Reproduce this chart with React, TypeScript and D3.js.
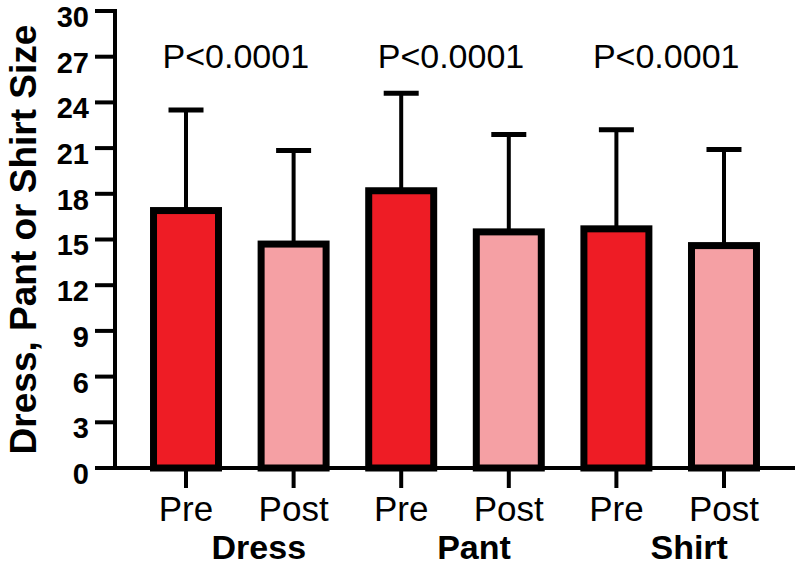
import React from "react";
import * as d3 from "d3";

const categories = ["Dress", "Pant", "Shirt"];
const conditions = ["Pre", "Post"];
const preMeans = [16.9, 18.2, 15.7];
const postMeans = [14.7, 15.5, 14.6];
const preSD = [6.6, 6.4, 6.5];
const postSD = [6.15, 6.4, 6.3];
const pLabels = ["P<0.0001", "P<0.0001", "P<0.0001"];
const yTicks = [0, 3, 6, 9, 12, 15, 18, 21, 24, 27, 30];
const yTitle = "Dress, Pant or Shirt Size";

const W = 800;
const H = 566;
const FONT = "'Liberation Sans', Arial, Helvetica, sans-serif";
const colors: Record<string, string> = { Pre: "#EE1C25", Post: "#F5A0A4" };

export default function App() {
  const left = 115;
  const right = 795;
  const top = 11;
  const bottom = 468;

  const rows = categories.flatMap((c, i) => [
    { key: `${c}-${conditions[0]}`, cat: c, cond: conditions[0], mean: preMeans[i], sd: preSD[i] },
    { key: `${c}-${conditions[1]}`, cat: c, cond: conditions[1], mean: postMeans[i], sd: postSD[i] },
  ]);

  const x = d3
    .scaleBand<string>()
    .domain(rows.map((r) => r.key))
    .range([left, right])
    .paddingInner(0.396)
    .paddingOuter(0.358);

  const y = d3.scaleLinear().domain([0, 30]).range([bottom, top]);
  const bw = x.bandwidth();
  const cx = (k: string) => (x(k) as number) + bw / 2;

  return (
    <svg
      width={W}
      height={H}
      style={{ position: "absolute", left: 0, top: 0, background: "#fff" }}
      fontFamily={FONT}
    >
      <rect x={0} y={0} width={W} height={H} fill="#fff" />
      {rows.map((r) => (
        <g key={r.key}>
          <line
            x1={cx(r.key)}
            x2={cx(r.key)}
            y1={y(r.mean)}
            y2={y(r.mean + r.sd)}
            stroke="#000"
            strokeWidth={4}
          />
          <line
            x1={cx(r.key) - 17.5}
            x2={cx(r.key) + 17.5}
            y1={y(r.mean + r.sd)}
            y2={y(r.mean + r.sd)}
            stroke="#000"
            strokeWidth={5}
          />
          <rect
            x={x(r.key)}
            y={y(r.mean)}
            width={bw}
            height={y(0) - y(r.mean)}
            fill={colors[r.cond]}
            stroke="#000"
            strokeWidth={7}
          />
        </g>
      ))}
      <line x1={left} x2={left} y1={y(30) - 2} y2={bottom + 2} stroke="#000" strokeWidth={4} />
      {yTicks.map((t) => (
        <g key={t}>
          <line x1={left - 20} x2={left} y1={y(t)} y2={y(t)} stroke="#000" strokeWidth={4} />
          <text
            x={left - 26}
            y={y(t)}
            dy="0.55em"
            textAnchor="end"
            fontSize={29}
            fontWeight="bold"
          >
            {t}
          </text>
        </g>
      ))}
      <line x1={left - 2} x2={right} y1={bottom} y2={bottom} stroke="#000" strokeWidth={4} />
      {rows.map((r) => (
        <g key={`t-${r.key}`}>
          <line x1={cx(r.key)} x2={cx(r.key)} y1={bottom} y2={bottom + 20} stroke="#000" strokeWidth={4} />
          <text x={cx(r.key)} y={521} textAnchor="middle" fontSize={35}>
            {r.cond}
          </text>
        </g>
      ))}
      {categories.map((c, i) => {
        const mid = (cx(`${c}-${conditions[0]}`) + cx(`${c}-${conditions[1]}`)) / 2;
        return (
          <g key={`c-${c}`}>
            <text x={mid + 19} y={559} textAnchor="middle" fontSize={34} fontWeight="bold">
              {c}
            </text>
            <text x={mid - 4} y={68} textAnchor="middle" fontSize={34}>
              {pLabels[i]}
            </text>
          </g>
        );
      })}
      <text
        transform={`translate(36, ${(top + bottom) / 2}) rotate(-90)`}
        textAnchor="middle"
        fontSize={37}
        fontWeight="bold"
      >
        {yTitle}
      </text>
    </svg>
  );
}
